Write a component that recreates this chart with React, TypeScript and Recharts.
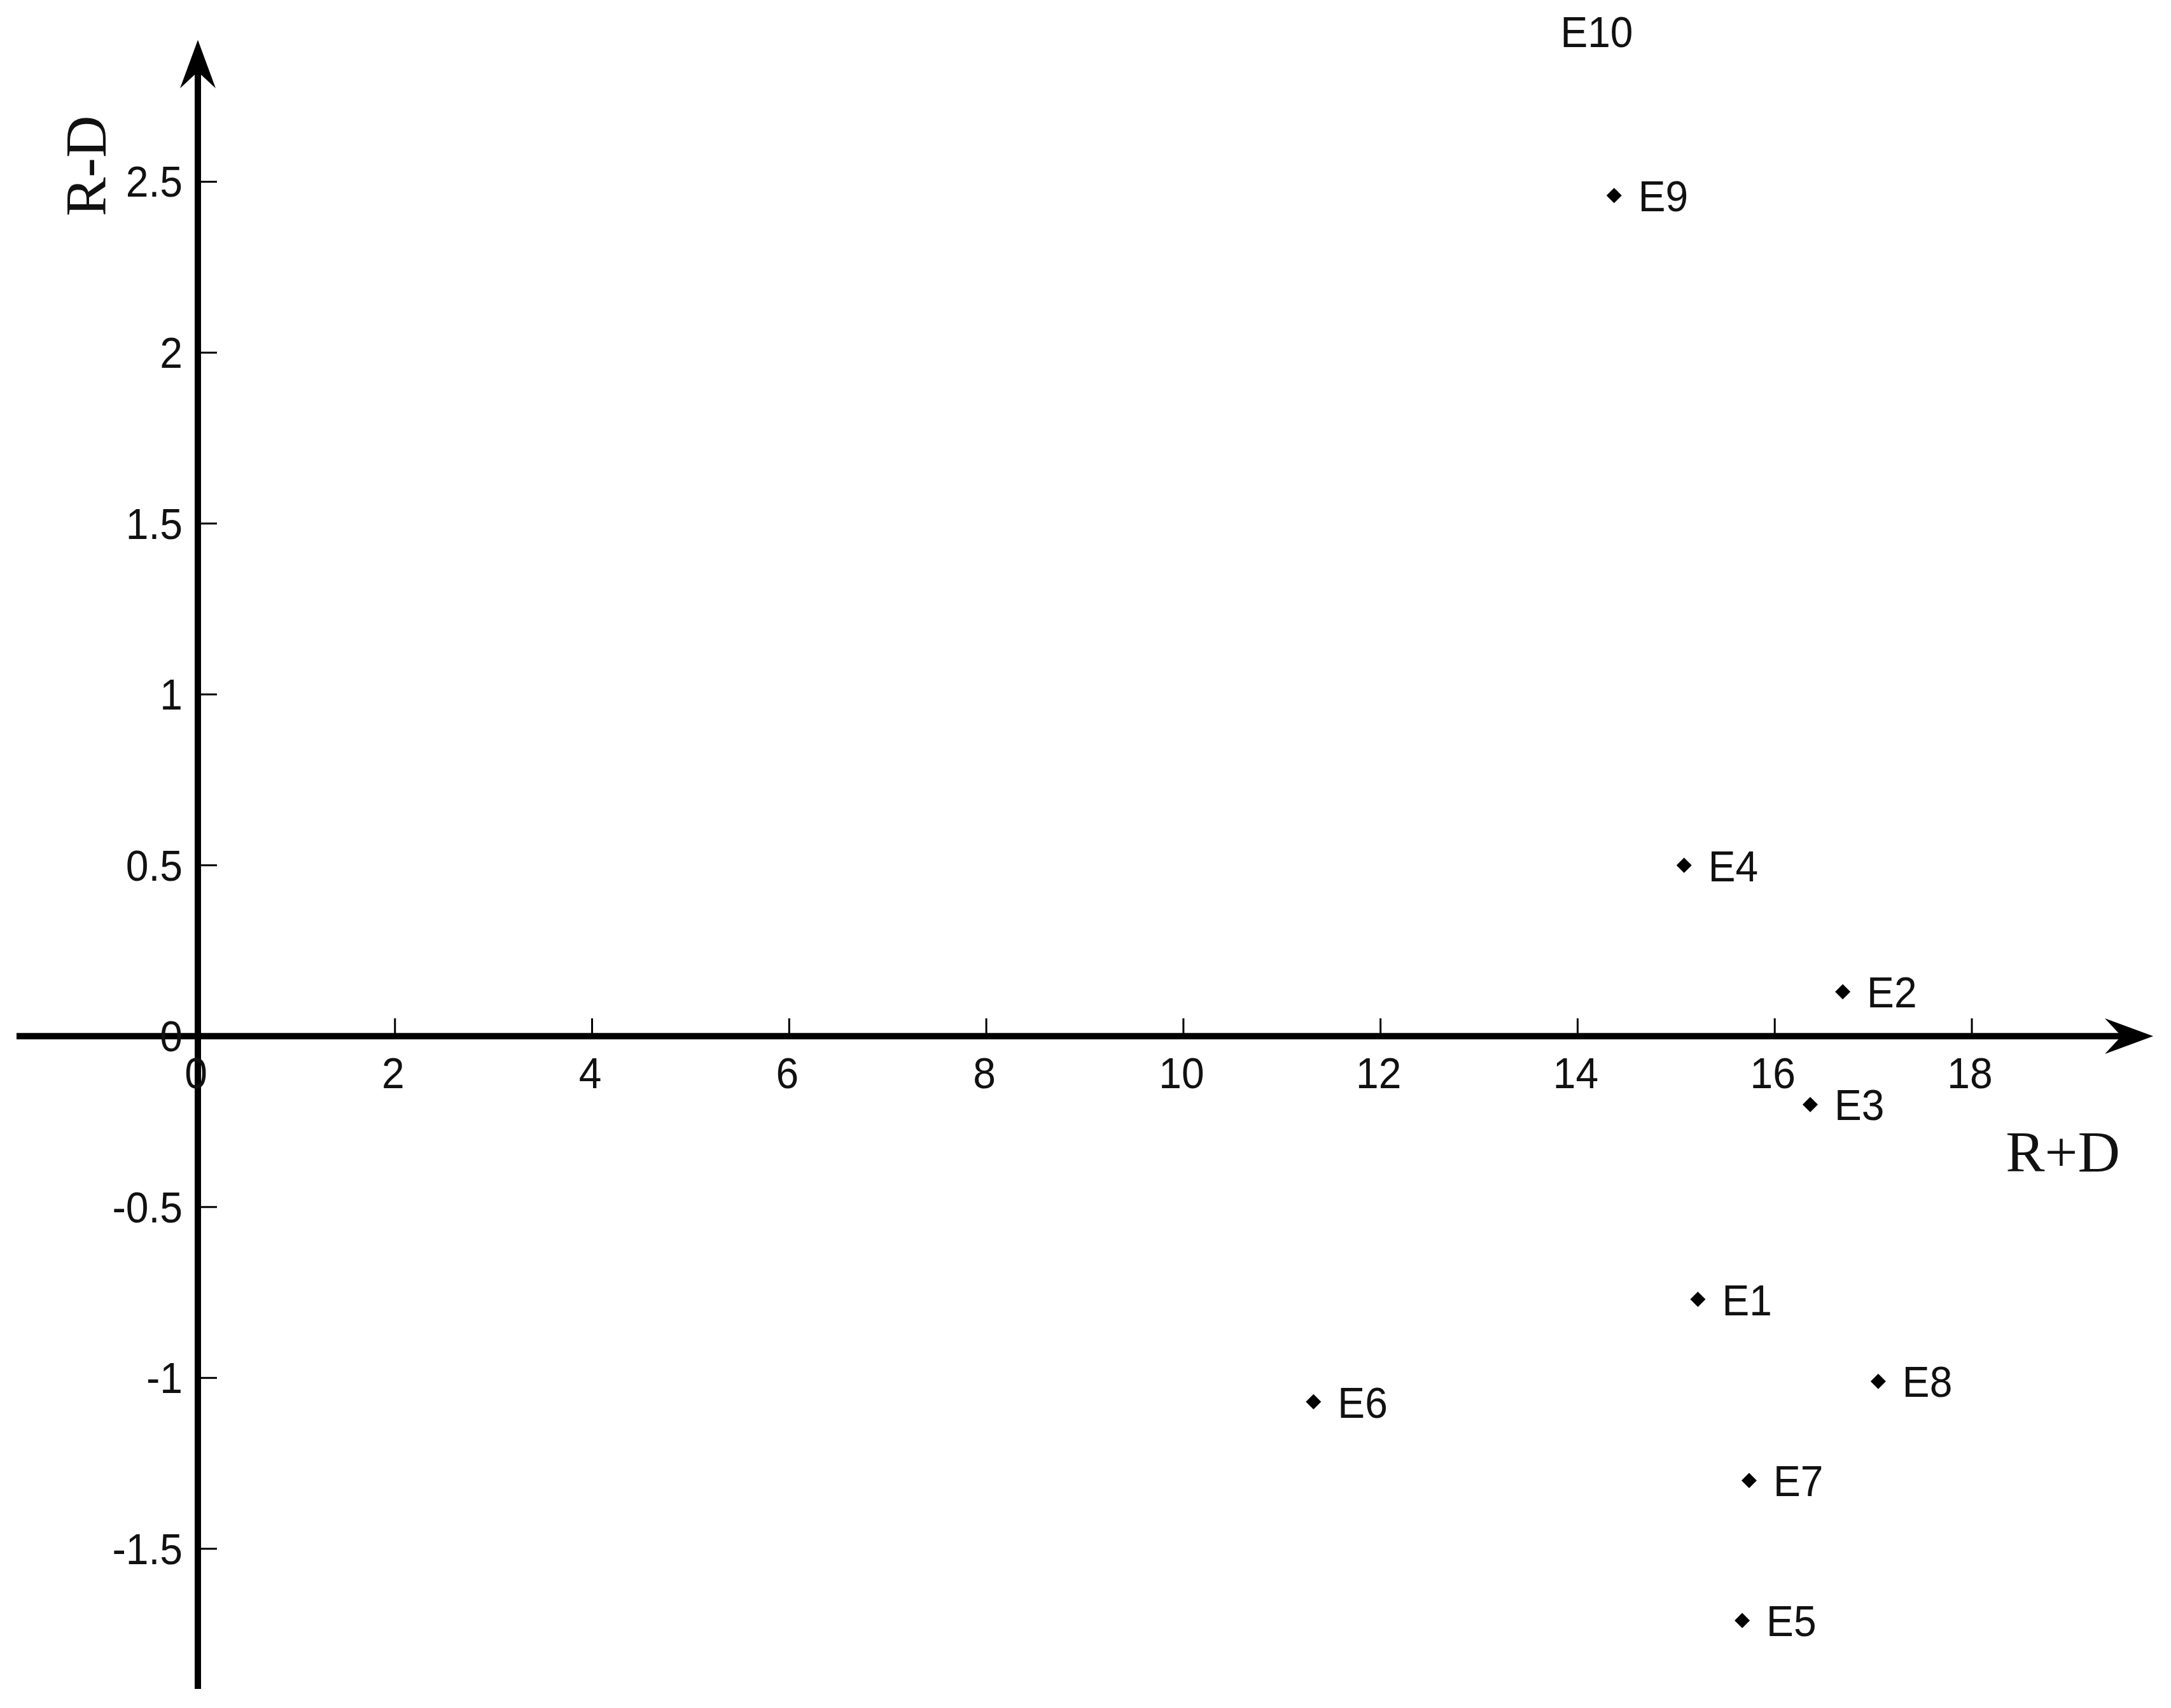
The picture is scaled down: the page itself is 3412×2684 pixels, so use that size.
import React from 'react';
import { ScatterChart, Scatter, XAxis, YAxis, ReferenceLine, ReferenceDot } from 'recharts';

// ---- data ----
const names = ['E1', 'E2', 'E3', 'E4', 'E5', 'E6', 'E7', 'E8', 'E9', 'E10'];
const rPlusD = [15.22, 16.69, 16.36, 15.08, 15.67, 11.32, 15.74, 17.05, 14.37, 13.58];
const rMinusD = [-0.77, 0.13, -0.2, 0.5, -1.71, -1.07, -1.3, -1.01, 2.46, 2.94];

const xTicks = [0, 2, 4, 6, 8, 10, 12, 14, 16, 18];
const xTickLabels = ['0', '2', '4', '6', '8', '10', '12', '14', '16', '18'];
const yTicks = [-1.5, -1, -0.5, 0, 0.5, 1, 1.5, 2, 2.5];
const yTickLabels = ['-1.5', '-1', '-0.5', '0', '0.5', '1', '1.5', '2', '2.5'];

const xTitle = 'R+D';
const yTitle = 'R-D';

// axis extents (data units)
const X_DOMAIN: [number, number] = [-1.956, 19.969];
const Y_DOMAIN: [number, number] = [-1.951, 3.017];
const X_AXIS_START = -1.84;
const X_AXIS_END = 19.84;
const Y_AXIS_START = -1.91;
const Y_AXIS_END = 2.915;

const data = names.map((n, i) => ({ name: n, x: rPlusD[i], y: rMinusD[i] }));

const W = 3396;
const H = 2668;
const SANS = '"Liberation Sans", Arial, sans-serif';
const SERIF = '"Liberation Serif", "Times New Roman", serif';
const FS = 69;
const SX = 0.93;
const AXIS_W = 10;

const SText = (p: { x: number; y: number; anchor: 'start' | 'middle' | 'end'; children: any }) => (
  <text
    transform={`translate(${p.x},${p.y}) scale(${SX},1)`}
    x={0}
    y={0}
    textAnchor={p.anchor}
    dominantBaseline="central"
    fontFamily={SANS}
    fontSize={FS}
    fill="#111"
  >
    {p.children}
  </text>
);

const PointShape = (props: any) => {
  const { cx, cy, payload } = props;
  const showMarker = payload.y <= Y_AXIS_END;
  const r = 12;
  return (
    <g>
      {showMarker && (
        <path d={`M${cx},${cy - r} L${cx + r},${cy} L${cx},${cy + r} L${cx - r},${cy} Z`} fill="#000" />
      )}
      <SText x={cx + 38} y={cy + 1} anchor="start">
        {payload.name}
      </SText>
    </g>
  );
};

const ARROW_L = 76;
const ARROW_HW = 28;
const ARROW_NOTCH = 50;

const XAxisShape = (props: any) => {
  const { x1, y1, x2, y2 } = props;
  return (
    <g>
      <line x1={x1} y1={y1} x2={x2 - ARROW_NOTCH} y2={y2} stroke="#000" strokeWidth={AXIS_W} />
      <path
        d={`M${x2},${y2} L${x2 - ARROW_L},${y2 - ARROW_HW} L${x2 - ARROW_NOTCH},${y2} L${x2 - ARROW_L},${y2 + ARROW_HW} Z`}
        fill="#000"
      />
      <text
        x={x2 - 142}
        y={y2 + 182}
        textAnchor="middle"
        dominantBaseline="central"
        fontFamily={SERIF}
        fontSize={92}
        fill="#111"
      >
        {xTitle}
      </text>
    </g>
  );
};

const YAxisShape = (props: any) => {
  const { x1, y1, x2, y2 } = props;
  const tx = x2 - 176;
  const ty = y2 + 198;
  return (
    <g>
      <line x1={x1} y1={y1} x2={x2} y2={y2 + ARROW_NOTCH} stroke="#000" strokeWidth={AXIS_W} />
      <path
        d={`M${x2},${y2} L${x2 - ARROW_HW},${y2 + ARROW_L} L${x2},${y2 + ARROW_NOTCH} L${x2 + ARROW_HW},${y2 + ARROW_L} Z`}
        fill="#000"
      />
      <text
        x={tx}
        y={ty}
        textAnchor="middle"
        dominantBaseline="central"
        fontFamily={SERIF}
        fontSize={92}
        fill="#111"
        transform={`rotate(-90 ${tx} ${ty})`}
      >
        {yTitle}
      </text>
    </g>
  );
};

const makeXTick = (label: string, withMark: boolean) => (props: any) => {
  const { cx, cy } = props;
  return (
    <g>
      {withMark && <line x1={cx} y1={cy} x2={cx} y2={cy - 28} stroke="#000" strokeWidth={3} />}
      <SText x={cx - 3} y={cy + 58} anchor="middle">
        {label}
      </SText>
    </g>
  );
};

const makeYTick = (label: string, withMark: boolean) => (props: any) => {
  const { cx, cy } = props;
  return (
    <g>
      {withMark && <line x1={cx} y1={cy} x2={cx + 30} y2={cy} stroke="#000" strokeWidth={3} />}
      <SText x={cx - 24} y={cy} anchor="end">
        {label}
      </SText>
    </g>
  );
};

export default function App() {
  return (
    <div style={{ width: W, height: H, background: '#fff' }}>
      <ScatterChart width={W} height={H} margin={{ top: 0, right: 0, bottom: 0, left: 0 }}>
        <XAxis type="number" dataKey="x" domain={X_DOMAIN} hide allowDataOverflow />
        <YAxis type="number" dataKey="y" domain={Y_DOMAIN} hide allowDataOverflow />
        <ReferenceLine
          ifOverflow="visible"
          segment={[
            { x: X_AXIS_START, y: 0 },
            { x: X_AXIS_END, y: 0 },
          ]}
          shape={XAxisShape}
        />
        <ReferenceLine
          ifOverflow="visible"
          segment={[
            { x: 0, y: Y_AXIS_START },
            { x: 0, y: Y_AXIS_END },
          ]}
          shape={YAxisShape}
        />
        {xTicks.map((t, i) => (
          <ReferenceDot key={'xt' + i} x={t} y={0} ifOverflow="visible" shape={makeXTick(xTickLabels[i], t !== 0)} />
        ))}
        {yTicks.map((t, i) => (
          <ReferenceDot key={'yt' + i} x={0} y={t} ifOverflow="visible" shape={makeYTick(yTickLabels[i], t !== 0)} />
        ))}
        <Scatter data={data} dataKey="y" isAnimationActive={false} shape={PointShape} />
      </ScatterChart>
    </div>
  );
}
